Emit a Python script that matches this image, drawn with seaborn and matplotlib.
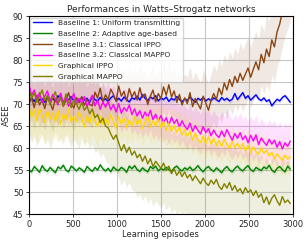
#!/usr/bin/env python3
"""
ASEE learning curves in Watts-Strogatz networks
"""

import numpy as np
import pandas as pd
import matplotlib
matplotlib.use('Agg')
import matplotlib.pyplot as plt
import seaborn as sns

# one sample every 30 learning episodes
episodes = np.arange(0, 3000, 30)

labels = ['Baseline 1: Uniform transmitting',
          'Baseline 2: Adaptive age-based',
          'Baseline 3.1: Classical IPPO',
          'Baseline 3.2: Classical MAPPO',
          'Graphical IPPO',
          'Graphical MAPPO']
colors = ['blue', 'green', 'saddlebrown', 'magenta', 'gold', 'olive']

uniform = [70.2, 71.4, 70.6, 71.8, 70.9, 71.2, 70.4, 71.6, 70.8, 71.3,
           70.6, 71.9, 71.1, 70.5, 71.4, 70.9, 71.7, 70.7, 71.2, 70.6,
           71.5, 70.9, 71.3, 70.4, 71.8, 71.0, 70.7, 71.5, 70.8, 71.2,
           70.6, 71.4, 71.9, 70.8, 71.3, 70.7, 71.6, 71.0, 70.5, 71.4,
           71.1, 71.8, 70.9, 72.2, 71.3, 70.8, 71.6, 71.2, 71.9, 70.7,
           71.4, 71.0, 71.6, 70.6, 71.3, 70.9, 71.7, 71.1, 70.5, 71.2,
           70.8, 71.6, 71.0, 70.4, 71.3, 70.9, 71.5, 70.7, 71.2, 70.8,
           71.4, 71.0, 70.6, 71.5, 70.9, 71.3, 70.7, 71.1, 72.4, 71.0,
           71.8, 72.6, 71.3, 71.9, 70.9, 71.5, 72.1, 71.2, 70.8, 71.4,
           70.6, 71.0, 69.6, 70.4, 71.1, 70.7, 71.5, 71.9, 71.2, 70.4]

age_based = [55.0, 54.6, 55.8, 55.2, 54.5, 56.0, 55.1, 54.7, 55.6, 55.0,
             54.4, 55.7, 55.3, 56.1, 55.0, 54.6, 55.9, 55.4, 54.8, 55.5,
             55.1, 54.5, 55.8, 55.2, 54.7, 55.6, 55.0, 56.2, 55.3, 54.8,
             55.4, 54.6, 55.7, 55.1, 54.9, 55.6, 55.2, 54.5, 55.9, 55.3,
             56.0, 55.1, 54.7, 55.5, 55.0, 54.6, 55.8, 55.3, 55.9, 54.8,
             55.4, 55.0, 55.6, 55.1, 54.7, 55.5, 55.9, 55.2, 54.8, 55.5,
             55.1, 55.7, 54.9, 55.3, 56.0, 55.2, 54.6, 55.4, 55.8, 55.1,
             54.7, 55.5, 55.0, 54.4, 55.3, 55.8, 55.0, 54.6, 55.4, 55.9,
             55.2, 54.8, 55.5, 56.0, 55.1, 54.7, 55.6, 55.2, 54.9, 55.7,
             55.3, 56.1, 55.0, 54.5, 55.4, 55.8, 55.1, 54.6, 55.9, 55.2]

classical_ippo = [70.3, 71.4, 69.2, 72.0, 69.8, 70.9, 69.0, 71.6, 70.3, 68.7,
                  71.2, 70.0, 72.3, 69.5, 70.8, 72.6, 70.1, 69.1, 71.5, 70.3,
                  71.7, 69.7, 71.1, 69.9, 69.6, 72.7, 71.4, 73.6, 70.5, 72.1,
                  71.0, 73.4, 72.2, 70.6, 74.1, 71.8, 72.9, 70.7, 73.5, 71.6,
                  72.8, 70.9, 73.7, 71.5, 72.3, 69.9, 71.8, 73.2, 70.5, 72.4,
                  71.2, 73.9, 72.0, 74.4, 71.6, 73.0, 70.4, 72.2, 69.8, 71.4,
                  70.1, 72.6, 69.4, 71.3, 70.0, 68.9, 71.8, 70.2, 68.6, 70.9,
                  72.4, 71.0, 73.6, 72.1, 74.8, 73.2, 75.6, 74.0, 76.3, 74.9,
                  77.0, 75.4, 76.8, 78.2, 76.1, 77.9, 79.6, 77.8, 81.3, 79.4,
                  82.5, 80.8, 84.6, 83.0, 86.4, 88.2, 91.0, 93.5, 95.0, 97.0]

classical_mappo = [74.5, 72.0, 73.2, 71.0, 72.6, 70.4, 71.8, 73.0, 70.6, 72.2,
                   71.2, 69.8, 72.5, 70.3, 71.6, 69.5, 71.0, 72.4, 69.9, 71.3,
                   70.2, 71.7, 69.4, 70.8, 72.0, 69.6, 70.9, 68.8, 70.5, 69.3,
                   70.6, 68.7, 69.9, 68.2, 70.1, 67.9, 69.2, 68.4, 69.8, 67.6,
                   68.9, 67.3, 68.5, 66.8, 68.2, 67.0, 68.6, 66.4, 67.7, 66.1,
                   67.4, 65.8, 66.9, 65.2, 67.0, 65.6, 66.5, 64.8, 66.2, 65.0,
                   64.2, 65.7, 63.8, 65.1, 64.0, 63.2, 64.9, 63.5, 64.4, 62.8,
                   64.1, 63.0, 62.4, 63.9, 62.6, 64.2, 62.9, 61.8, 63.3, 62.2,
                   63.5, 61.9, 62.8, 61.2, 62.9, 61.6, 63.0, 60.8, 62.3, 61.4,
                   60.6, 62.0, 60.9, 61.8, 60.2, 61.5, 59.8, 61.2, 60.4, 61.6]

graph_ippo = [69.5, 67.0, 68.8, 66.2, 69.0, 67.4, 65.8, 68.5, 66.6, 68.0,
              66.0, 68.6, 65.4, 67.8, 66.4, 68.9, 65.9, 67.2, 66.0, 68.2,
              66.7, 64.8, 67.5, 65.6, 68.0, 66.1, 64.9, 67.3, 65.4, 66.8,
              65.2, 67.6, 66.0, 64.6, 67.1, 65.5, 66.9, 64.7, 66.4, 65.0,
              67.0, 65.3, 66.6, 64.4, 65.9, 67.2, 64.8, 66.3, 65.0, 66.7,
              64.6, 66.1, 64.0, 65.6, 63.8, 65.2, 63.5, 64.8, 62.9, 64.3,
              62.6, 63.9, 61.8, 63.4, 62.0, 61.2, 62.8, 61.0, 62.5, 60.9,
              62.2, 60.6, 61.7, 60.3, 62.0, 60.8, 59.9, 61.5, 60.2, 61.1,
              59.8, 61.0, 59.4, 60.6, 58.9, 60.3, 59.2, 58.6, 60.0, 58.8,
              59.5, 58.2, 59.0, 57.6, 58.7, 57.9, 57.2, 58.4, 57.5, 58.0]

graph_mappo = [73.5, 71.2, 72.6, 70.4, 71.8, 73.2, 70.8, 72.0, 69.8, 71.5,
               72.8, 70.2, 71.4, 69.6, 72.3, 70.6, 69.2, 71.0, 70.0, 68.8,
               70.4, 68.6, 69.5, 67.8, 68.9, 66.9, 67.6, 65.8, 66.8, 65.0,
               64.6, 63.2, 62.0, 63.0, 61.2, 59.4, 60.8, 59.0, 60.2, 58.4,
               59.3, 57.8, 58.6, 57.0, 58.2, 56.4, 57.6, 55.8, 57.0, 56.2,
               55.4, 56.6, 54.9, 55.9, 54.2, 55.3, 53.8, 54.8, 53.5, 54.6,
               53.2, 54.0, 52.6, 53.7, 52.8, 51.9, 53.2, 52.1, 51.5, 52.7,
               51.8, 52.9, 51.3, 50.6, 51.9, 50.9, 52.2, 50.4, 51.5, 50.1,
               50.8, 49.6, 51.0, 49.9, 50.5, 49.2, 50.3, 48.8, 49.6, 47.6,
               48.9, 47.2, 48.6, 49.4, 48.0, 47.0, 49.0, 47.6, 48.2, 47.4]

# spread of the shaded band, one value per 300-episode block
uniform_sd = [0.7, 0.5, 0.5, 0.5, 0.5, 0.5, 0.5, 0.5, 0.5, 0.5]
age_based_sd = [0.7, 0.6, 0.6, 0.6, 0.6, 0.6, 0.6, 0.6, 0.6, 0.6]
classical_ippo_sd = [5.0, 5.0, 5.0, 5.0, 5.5, 5.5, 6.0, 6.5, 7.0, 8.0]
classical_mappo_sd = [5.0, 4.5, 4.5, 4.5, 4.5, 4.5, 4.5, 4.5, 4.5, 4.5]
graph_ippo_sd = [5.0, 4.5, 4.5, 4.0, 4.0, 4.0, 3.5, 3.5, 3.5, 3.5]
graph_mappo_sd = [10.0, 9.0, 8.0, 8.0, 9.0, 9.0, 9.0, 9.0, 9.0, 9.0]

means = [uniform, age_based, classical_ippo, classical_mappo, graph_ippo, graph_mappo]
spreads = [uniform_sd, age_based_sd, classical_ippo_sd, classical_mappo_sd,
           graph_ippo_sd, graph_mappo_sd]

sns.set_style("ticks", {"axes.grid": True, "grid.color": "#c8c8c8",
                        "axes.edgecolor": "black"})
plt.rcParams['font.family'] = ['DejaVu Sans']

df = pd.concat([pd.DataFrame({'episode': episodes, 'ASEE': m, 'method': lab})
                for m, lab in zip(means, labels)], ignore_index=True)

fig, ax = plt.subplots(figsize=(3.08, 2.4), dpi=100)
fig.subplots_adjust(left=0.094, right=0.951, top=0.933, bottom=0.108)

# shaded bands first so the curves sit on top
for m, sd, c in zip(means, spreads, colors):
    m = np.asarray(m)
    s = np.repeat(sd, len(episodes) // len(sd))
    ax.fill_between(episodes, m - s, m + s, color=c, alpha=0.12, lw=0)

sns.lineplot(data=df, x='episode', y='ASEE', hue='method', hue_order=labels,
             palette=colors, lw=1.0, ax=ax)

ax.set_xlim(0, 3000)
ax.set_ylim(45, 90)
ax.set_xticks(range(0, 3001, 500))
ax.set_yticks(range(45, 91, 5))
ax.tick_params(labelsize=6, length=2.5, width=0.6, pad=1.5)
ax.set_xlabel('Learning episodes', fontsize=6, labelpad=1)
ax.set_ylabel('ASEE', fontsize=6, labelpad=1)
ax.set_title('Performances in Watts\u2013Strogatz networks', fontsize=6.5, pad=3)
for sp in ax.spines.values():
    sp.set_linewidth(0.8)

leg = ax.legend(loc='upper left', fontsize=5.4, handlelength=2.6,
                borderaxespad=0.2, labelspacing=0.6, framealpha=0.8,
                borderpad=0.3)
for line in leg.get_lines():
    line.set_linewidth(1.0)

plt.savefig('out.png', dpi=100)
plt.close()
